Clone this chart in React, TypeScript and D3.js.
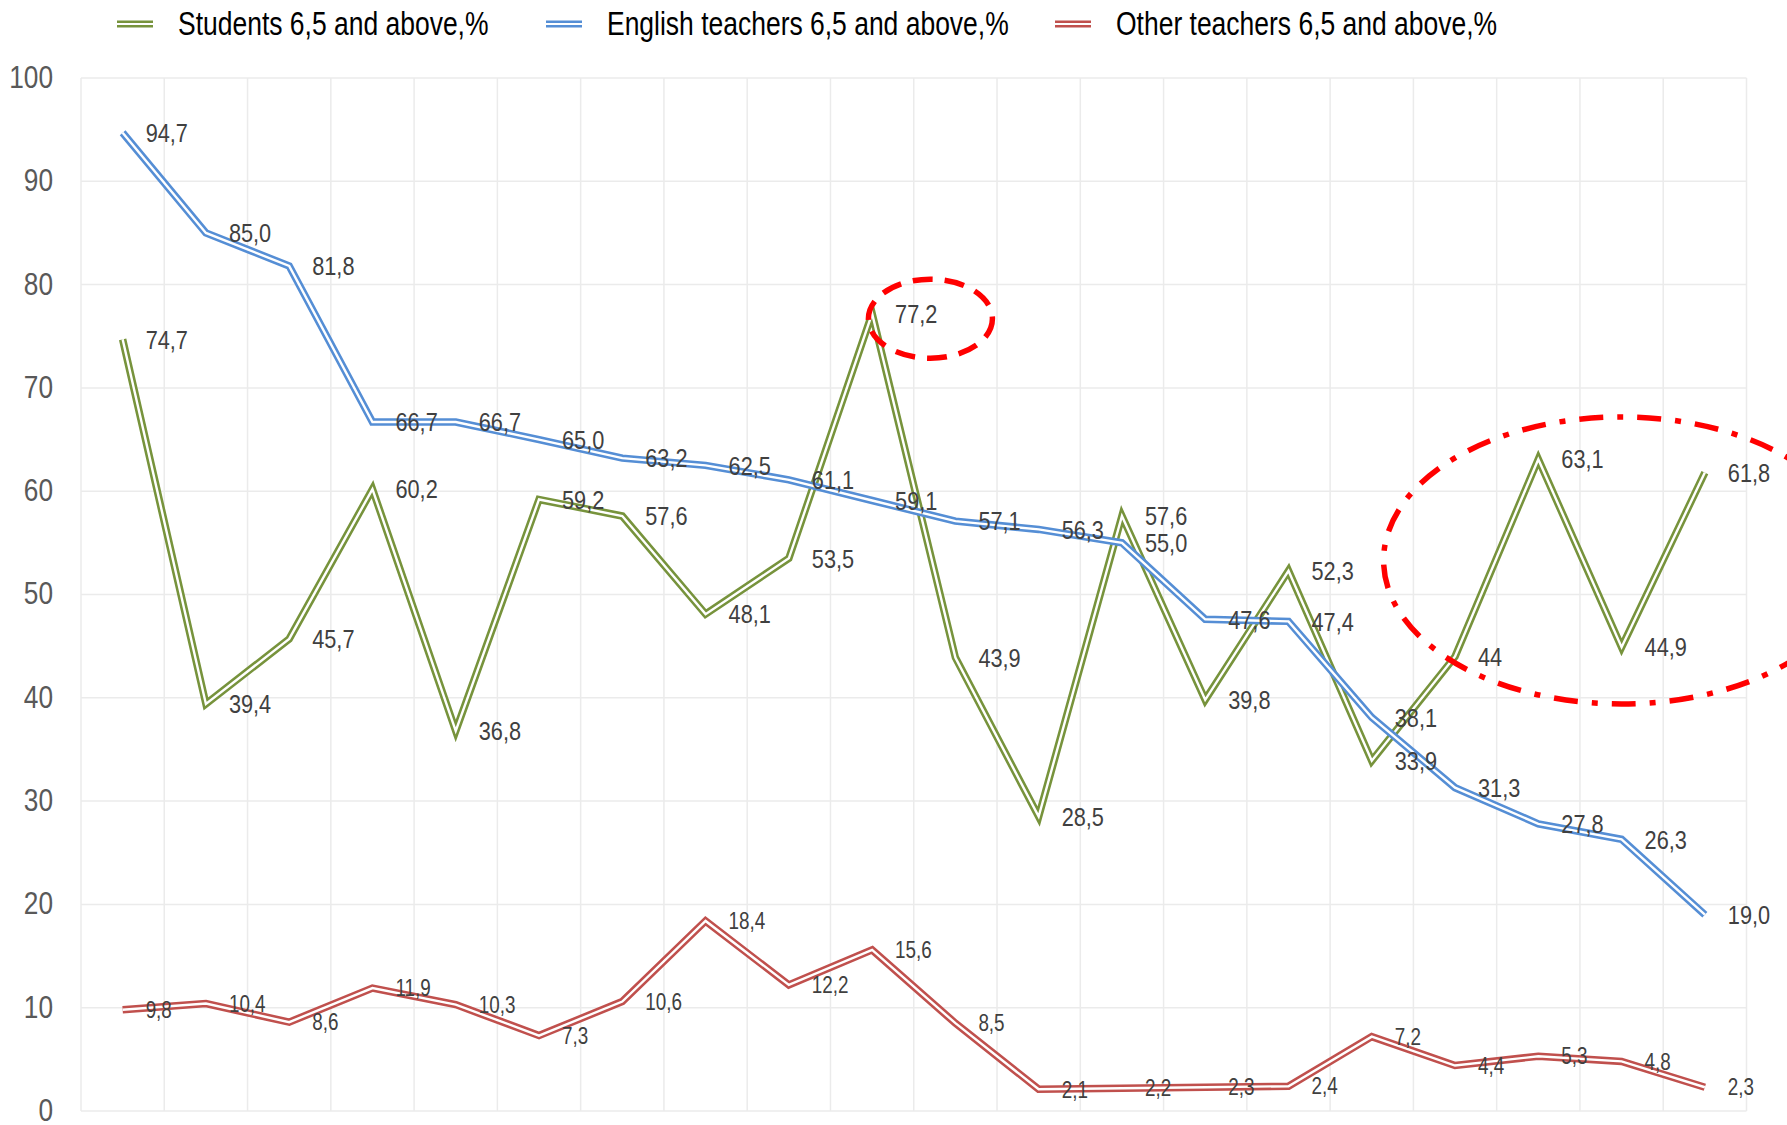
import React from 'react';
import * as d3 from 'd3';

const students = [74.7, 39.4, 45.7, 60.2, 36.8, 59.2, 57.6, 48.1, 53.5, 77.2, 43.9, 28.5, 57.6, 39.8, 52.3, 33.9, 44, 63.1, 44.9, 61.8];
const english = [94.7, 85.0, 81.8, 66.7, 66.7, 65.0, 63.2, 62.5, 61.1, 59.1, 57.1, 56.3, 55.0, 47.6, 47.4, 38.1, 31.3, 27.8, 26.3, 19.0];
const others = [9.8, 10.4, 8.6, 11.9, 10.3, 7.3, 10.6, 18.4, 12.2, 15.6, 8.5, 2.1, 2.2, 2.3, 2.4, 7.2, 4.4, 5.3, 4.8, 2.3];
const studentLabels = ['74,7', '39,4', '45,7', '60,2', '36,8', '59,2', '57,6', '48,1', '53,5', '77,2', '43,9', '28,5', '57,6', '39,8', '52,3', '33,9', '44', '63,1', '44,9', '61,8'];
const yTicks = [0, 10, 20, 30, 40, 50, 60, 70, 80, 90, 100];
const legendNames = ['Students 6,5 and above,%', 'English teachers 6,5 and above,%', 'Other teachers 6,5 and above,%'];

const W = 1787;
const H = 1125;
const margin = { top: 78, right: 40.5, bottom: 14, left: 81 };
const font = "'Liberation Sans', Arial, sans-serif";
const narrow = 0.82; // no narrow font installed, so squeeze the glyphs

const fmt = (v: number) => v.toFixed(1).replace('.', ',');

const series = [
  { name: legendNames[0], values: students, labels: studentLabels, color: '#77933C', size: 26.5 },
  { name: legendNames[1], values: english, labels: english.map(fmt), color: '#558ED5', size: 26.5 },
  { name: legendNames[2], values: others, labels: others.map(fmt), color: '#C0504D', size: 23 },
];

// red circles drawn on the chart (centre in category / value units)
const callouts = [
  { cat: 9.7, val: 76.7, rx: 62, ry: 39.5, dash: '20,12' },
  { cat: 18, val: 53.3, rx: 238, ry: 143.5, dash: '24,14,6,14' },
];

const NText = ({ x, y, children, ...rest }: any) => (
  <text transform={`translate(${x},${y}) scale(${narrow},1)`} dominantBaseline="central" {...rest}>
    {children}
  </text>
);

const App = () => {
  const cats = d3.range(students.length);
  const band = d3.scaleBand<number>().domain(cats).range([margin.left, W - margin.right]).padding(0);
  const x = (i: number) => (band(Math.floor(i)) ?? 0) + band.bandwidth() * (0.5 + i - Math.floor(i));
  const y = d3.scaleLinear().domain([0, 100]).range([H - margin.bottom, margin.top]);

  const line = d3.line<number>().x((_, i) => x(i)).y(d => y(d));
  const edges = cats.map(c => band(c) ?? 0).concat([W - margin.right]);

  return (
    <div style={{ position: 'absolute', left: 0, top: 0 }}>
      <svg width={W} height={H} style={{ display: 'block', background: '#fff' }}>
        <g stroke="#EBEBEB" strokeWidth={1.5}>
          {yTicks.map(t => (
            <line key={'h' + t} x1={margin.left} x2={W - margin.right} y1={y(t)} y2={y(t)} />
          ))}
          {edges.map((e, i) => (
            <line key={'v' + i} x1={e} x2={e} y1={y(100)} y2={y(0)} />
          ))}
        </g>

        <g fontFamily={font} fontSize={32} fill="#595959" textAnchor="end">
          {yTicks.map(t => (
            <NText key={t} x={53} y={y(t) - 1}>{t}</NText>
          ))}
        </g>

        {series.map(s => (
          <g key={s.name} fill="none" strokeLinejoin="miter" strokeMiterlimit={4}>
            <path d={line(s.values) ?? ''} stroke={s.color} strokeWidth={7.5} />
            <path d={line(s.values) ?? ''} stroke="#fff" strokeWidth={2.4} />
          </g>
        ))}

        {series.map(s => (
          <g key={s.name + 'lbl'} fontFamily={font} fontSize={s.size} fill="#404040">
            {s.values.map((v, i) => (
              <NText key={i} x={x(i) + 23} y={y(v)}>{s.labels[i]}</NText>
            ))}
          </g>
        ))}

        {callouts.map((c, i) => (
          <ellipse key={i} cx={x(c.cat)} cy={y(c.val)} rx={c.rx} ry={c.ry} fill="none"
            stroke="#FF0000" strokeWidth={5.5} strokeDasharray={c.dash} />
        ))}

        <g fontFamily={font} fontSize={32.3} fill="#000">
          {series.map((s, i) => {
            const tx = [178, 607, 1116][i];
            return (
              <g key={s.name + 'leg'}>
                <line x1={tx - 61} x2={tx - 25} y1={24} y2={24} stroke={s.color} strokeWidth={7} />
                <line x1={tx - 61} x2={tx - 25} y1={24} y2={24} stroke="#fff" strokeWidth={2.2} />
                <NText x={tx} y={24}>{s.name}</NText>
              </g>
            );
          })}
        </g>
      </svg>
    </div>
  );
};

export default App;
